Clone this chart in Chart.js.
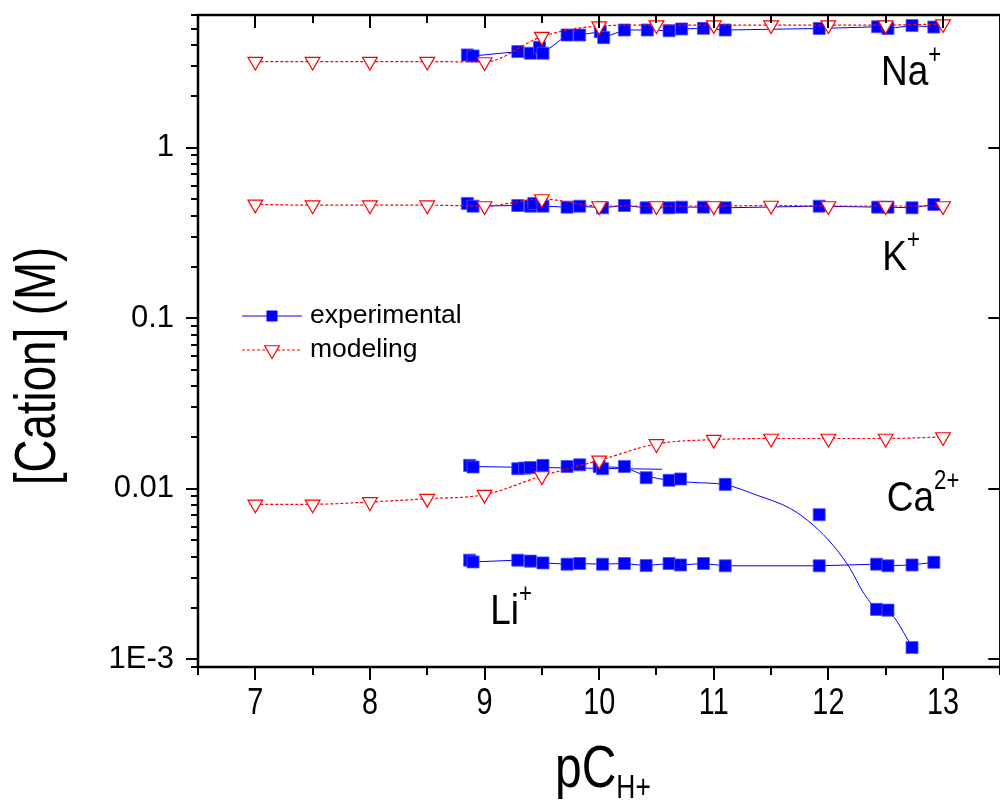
<!DOCTYPE html>
<html>
<head>
<meta charset="utf-8">
<script src="https://cdn.jsdelivr.net/npm/chart.js@4/dist/chart.umd.min.js"></script>
<style>
  html, body { margin: 0; padding: 0; background: #fff; overflow: hidden; }
  canvas { display: block; }
</style>
</head>
<body>
<canvas id="c" width="1010" height="802"></canvas>
<script>
// modeling curves (red), computed at every half unit
let modX = [7, 7.5, 8, 8.5, 9, 9.5, 10, 10.5, 11, 11.5, 12, 12.5, 13];
let naMod = [3.2, 3.2, 3.2, 3.2, 3.18, 4.48, 5.17, 5.24, 5.24, 5.24, 5.24, 5.24, 5.31];
let kMod = [0.465, 0.46, 0.46, 0.46, 0.455, 0.50, 0.455, 0.455, 0.455, 0.458, 0.455, 0.455, 0.455];
let caMod = [0.0081, 0.0081, 0.00836, 0.00874, 0.00923, 0.01187, 0.01465, 0.0183, 0.0194, 0.0197, 0.0197, 0.0197, 0.0201];

// experimental (blue)
let naX = [8.85, 8.90, 9.29, 9.40, 9.48, 9.51, 9.72, 9.83, 10.01, 10.04, 10.22, 10.42, 10.61, 10.72, 10.91, 11.10, 11.92, 12.43, 12.52, 12.73, 12.92];
let naY = [3.50, 3.45, 3.66, 3.58, 3.88, 3.58, 4.58, 4.58, 4.79, 4.42, 4.90, 4.90, 4.85, 4.97, 5.01, 4.90, 5.00, 5.12, 5.00, 5.20, 5.10];

let kX = [8.85, 8.90, 9.29, 9.40, 9.43, 9.51, 9.72, 9.83, 10.03, 10.22, 10.41, 10.61, 10.72, 10.91, 11.10, 11.92, 12.43, 12.52, 12.73, 12.92];
let kY = [0.471, 0.454, 0.458, 0.454, 0.471, 0.454, 0.448, 0.454, 0.444, 0.458, 0.444, 0.444, 0.448, 0.448, 0.444, 0.454, 0.448, 0.448, 0.444, 0.464];

let caX = [8.87, 8.90, 9.29, 9.35, 9.40, 9.51, 9.72, 9.83, 10.00, 10.03, 10.22, 10.41, 10.61, 10.71, 11.10, 11.92, 12.42, 12.52, 12.73];
let caY = [0.0137, 0.0134, 0.0131, 0.0132, 0.0133, 0.0137, 0.0135, 0.0138, 0.0135, 0.0131, 0.0135, 0.0116, 0.0112, 0.0114, 0.0106, 0.00704, 0.00196, 0.00194, 0.00117];
// fitted lines drawn through the Ca points
let caFlatX = [8.85, 10.55];
let caFlatY = [0.0135, 0.0130];
let caFitX = [10.0, 10.22, 10.41, 10.61, 10.8, 11.1, 11.38, 11.67, 11.87, 12.04, 12.19, 12.3, 12.42, 12.52, 12.73];
let caFitY = [0.01345, 0.0132, 0.0119, 0.0112, 0.0109, 0.01055, 0.00914, 0.00764, 0.0061, 0.00466, 0.0034, 0.00249, 0.00199, 0.00191, 0.00119];

let liX = [8.87, 8.90, 9.29, 9.40, 9.51, 9.72, 9.83, 10.03, 10.22, 10.41, 10.61, 10.71, 10.91, 11.10, 11.92, 12.42, 12.52, 12.73, 12.92];
let liY = [0.00381, 0.00372, 0.00381, 0.00376, 0.00367, 0.00361, 0.00364, 0.00361, 0.00364, 0.00354, 0.00364, 0.00357, 0.00364, 0.00353, 0.00353, 0.00361, 0.00353, 0.00357, 0.00370];

let xTicks = [7, 8, 9, 10, 11, 12, 13];
let yTicks = [0.001, 0.01, 0.1, 1];
let yTickLabels = ["1E-3", "0.01", "0.1", "1"];

let ionNames = ["Na", "K", "Ca", "Li"];
let ionCharges = ["+", "+", "2+", "+"];
let seriesNames = ["experimental", "modeling"];

let BLUE = "#0000ff";
let RED = "#ff0000";
let SANS = "'Liberation Sans', Arial, sans-serif";
let SQ = 0.8; // horizontal squeeze for the narrow looking labels

function pts(xs, ys) {
  return xs.map(function (x, i) { return { x: x, y: ys[i] }; });
}

function modSet(ys) {
  return {
    data: pts(modX, ys),
    showLine: true,
    borderColor: RED,
    borderWidth: 1.2,
    borderDash: [3, 2],
    cubicInterpolationMode: "monotone",
    pointStyle: "triangle",
    rotation: 180,
    pointRadius: 8.5,
    pointBorderWidth: 1.2,
    pointBorderColor: RED,
    pointBackgroundColor: "#fff"
  };
}

function expSet(xs, ys, line) {
  return {
    data: pts(xs, ys),
    showLine: line,
    borderColor: BLUE,
    borderWidth: 1,
    pointStyle: "rect",
    pointRadius: 8.5,
    pointBorderWidth: 1,
    pointBorderColor: "rgba(80,80,255,0.8)",
    pointBackgroundColor: BLUE
  };
}

function fitSet(xs, ys) {
  return {
    data: pts(xs, ys),
    showLine: true,
    borderColor: BLUE,
    borderWidth: 1,
    cubicInterpolationMode: "monotone",
    pointRadius: 0
  };
}

function narrowText(ctx, txt, x, y, size, align, sq) {
  let s = sq || SQ;
  ctx.save();
  ctx.translate(x, y);
  ctx.scale(s, 1);
  ctx.font = size + "px " + SANS;
  ctx.textAlign = align || "left";
  ctx.fillText(txt, 0, 0);
  let w = ctx.measureText(txt).width * s;
  ctx.restore();
  return w;
}

// axes, ticks, titles, ion labels and the legend
let frame = {
  id: "frame",
  afterDraw: function (chart) {
    let ctx = chart.ctx;
    let a = chart.chartArea;
    let xs = chart.scales.x;
    let ys = chart.scales.y;
    ctx.save();
    ctx.strokeStyle = "#000";
    ctx.lineWidth = 2.5;
    ctx.strokeRect(a.left, a.top, a.right - a.left, a.bottom - a.top);

    ctx.lineWidth = 2;
    ctx.beginPath();
    for (let v = 6.5; v <= 13.5; v += 0.5) {
      let px = Math.round(xs.getPixelForValue(v));
      let major = Math.abs(v - Math.round(v)) < 0.01;
      let len = major ? 13 : 8;
      ctx.moveTo(px, a.bottom);
      ctx.lineTo(px, a.bottom + len);
      ctx.moveTo(px, a.top);
      ctx.lineTo(px, a.top + len);
    }
    for (let e = -4; e <= 0; e++) {
      for (let m = 1; m <= 9; m++) {
        let v = m * Math.pow(10, e);
        if (v < ys.min || v > ys.max) continue;
        let py = Math.round(ys.getPixelForValue(v));
        let len = m === 1 ? 12 : 7;
        ctx.moveTo(a.left, py);
        ctx.lineTo(a.left - len, py);
        if (m === 1) {
          ctx.moveTo(a.right, py);
          ctx.lineTo(a.right - 12, py);
        }
      }
    }
    ctx.stroke();

    ctx.fillStyle = "#000";
    ctx.textBaseline = "alphabetic";

    // x tick labels
    xTicks.forEach(function (v) {
      narrowText(ctx, String(v), xs.getPixelForValue(v), a.bottom + 47, 36, "center");
    });

    // y title
    ctx.save();
    ctx.translate(55, 366);
    ctx.rotate(-Math.PI / 2);
    narrowText(ctx, "[Cation] (M)", 0, 0, 57, "center");
    ctx.restore();

    // x title pC with subscript H+
    let tx = 555;
    let w1 = narrowText(ctx, "pC", tx, 787, 60);
    narrowText(ctx, "H+", tx + w1, 798, 33);

    // ion labels, anchored in data units
    let ionAt = [[12.46, 2.34], [12.47, 0.192], [12.51, 0.00743], [9.05, 0.00161]];
    ionNames.forEach(function (name, i) {
      let px = xs.getPixelForValue(ionAt[i][0]);
      let py = ys.getPixelForValue(ionAt[i][1]);
      let w = narrowText(ctx, name, px, py, 43, "left", 0.86);
      narrowText(ctx, ionCharges[i], px + w, py - 22, 27, "left", 0.82);
    });

    // legend
    let lx = 242, lw = 60;
    let rowY = [316, 350];
    seriesNames.forEach(function (label, i) {
      let y = rowY[i];
      ctx.strokeStyle = i === 0 ? BLUE : RED;
      ctx.lineWidth = i === 0 ? 1 : 1.2;
      ctx.setLineDash(i === 0 ? [] : [3, 2]);
      ctx.beginPath();
      ctx.moveTo(lx, y);
      ctx.lineTo(lx + lw, y);
      ctx.stroke();
      ctx.setLineDash([]);
      let cx = lx + lw / 2;
      if (i === 0) {
        ctx.fillStyle = BLUE;
        ctx.fillRect(cx - 5.5, y - 5.5, 11, 11);
      } else {
        let rad = 8.5;
        ctx.fillStyle = "#fff";
        ctx.beginPath();
        ctx.moveTo(cx, y + rad);
        ctx.lineTo(cx - rad * 0.866, y - rad / 2);
        ctx.lineTo(cx + rad * 0.866, y - rad / 2);
        ctx.closePath();
        ctx.fill();
        ctx.stroke();
      }
      ctx.fillStyle = "#000";
      ctx.font = "26.5px " + SANS;
      ctx.textAlign = "left";
      ctx.textBaseline = "middle";
      ctx.fillText(label, 310, y);
      ctx.textBaseline = "alphabetic";
    });
    ctx.restore();
  }
};

function noPad(s) {
  s.paddingTop = 0;
  s.paddingBottom = 0;
  s.paddingLeft = 0;
  s.paddingRight = 0;
}

new Chart(document.getElementById("c"), {
  type: "scatter",
  data: {
    datasets: [
      modSet(naMod),
      modSet(kMod),
      modSet(caMod),
      expSet(naX, naY, true),
      expSet(kX, kY, true),
      expSet(caX, caY, false),
      expSet(liX, liY, true),
      fitSet(caFlatX, caFlatY),
      fitSet(caFitX, caFitY)
    ]
  },
  options: {
    responsive: false,
    animation: false,
    devicePixelRatio: 1,
    layout: { padding: { top: 15, right: 2, left: 0, bottom: 0 } },
    plugins: { legend: { display: false }, tooltip: { enabled: false } },
    scales: {
      x: {
        type: "linear",
        min: 6.5,
        max: 13.5,
        grid: { display: false, drawTicks: false },
        border: { display: false },
        afterBuildTicks: function (s) { s.ticks = xTicks.map(function (v) { return { value: v }; }); },
        afterFit: function (s) { s.height = 135; noPad(s); },
        ticks: { display: false }
      },
      y: {
        type: "logarithmic",
        min: 0.0009,
        max: 6,
        grid: { display: false, drawTicks: false },
        border: { display: false },
        afterBuildTicks: function (s) { s.ticks = yTicks.map(function (v) { return { value: v }; }); },
        afterFit: function (s) { s.width = 198; noPad(s); },
        ticks: {
          padding: 24,
          color: "#000",
          font: { family: SANS, size: 31 },
          callback: function (v) {
            let i = yTicks.indexOf(v);
            return i >= 0 ? yTickLabels[i] : "";
          }
        }
      }
    }
  },
  plugins: [frame]
});
</script>
</body>
</html>
